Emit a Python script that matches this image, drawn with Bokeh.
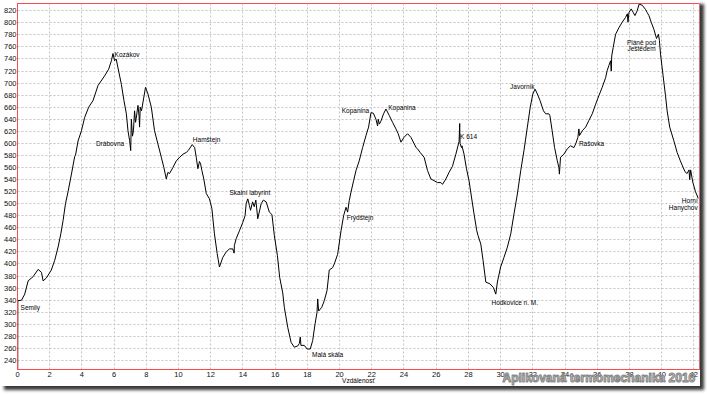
import numpy as np
from bokeh.plotting import figure
from bokeh.models import Label, Span, SingleIntervalTicker, Range1d, Title
from bokeh.embed import file_html
from bokeh.resources import INLINE

# ---- profile data (distance in km, elevation in m) ----
distance_km = [
    0.0, 0.02, 0.25, 0.45, 0.66, 0.97, 1.28, 1.49, 1.59, 1.8, 2.1, 2.31, 2.52, 2.69, 2.83, 2.98,
    3.14, 3.35, 3.55, 3.6, 3.76, 3.97, 4.17, 4.42, 4.69, 5.0, 5.41, 5.66, 5.83, 5.93, 6.03, 6.13,
    6.28, 6.45, 6.61, 6.76, 6.86, 6.96, 7.03, 7.07, 7.14, 7.2, 7.27, 7.33, 7.37, 7.48, 7.55, 7.58,
    7.62, 7.7, 7.95, 8.1, 8.31, 8.51, 8.72, 8.93, 9.09, 9.24, 9.34, 9.44, 9.65, 9.86, 10.07, 10.27,
    10.48, 10.6, 10.85, 11.0, 11.1, 11.2, 11.3, 11.37, 11.45, 11.57, 11.72, 11.92, 12.07, 12.23,
    12.4, 12.54, 12.75, 12.96, 13.16, 13.37, 13.45, 13.47, 13.58, 13.78, 13.99, 14.13, 14.2, 14.3,
    14.4, 14.47, 14.6, 14.7, 14.8, 14.92, 15.13, 15.27, 15.44, 15.64, 15.8, 15.95, 16.14, 16.28,
    16.47, 16.57, 16.78, 16.99, 17.19, 17.4, 17.5, 17.56, 17.6, 17.81, 17.98, 18.18, 18.33, 18.48,
    18.6, 18.64, 18.7, 18.89, 19.05, 19.22, 19.36, 19.57, 19.67, 19.88, 20.09, 20.25, 20.4, 20.5,
    20.6, 20.7, 20.87, 21.02, 21.22, 21.43, 21.64, 21.8, 21.95, 22.1, 22.26, 22.36, 22.4, 22.47,
    22.57, 22.73, 22.88, 23.09, 23.29, 23.5, 23.64, 23.81, 24.0, 24.22, 24.43, 24.64, 24.75, 24.84,
    25.0, 25.25, 25.46, 25.67, 25.88, 26.08, 26.29, 26.39, 26.6, 26.8, 27.01, 27.22, 27.42, 27.46,
    27.48, 27.57, 27.6, 27.73, 27.88, 28.04, 28.19, 28.35, 28.52, 28.6, 28.77, 28.91, 29.08, 29.34,
    29.55, 29.7, 29.8, 30.0, 30.21, 30.42, 30.63, 30.83, 31.04, 31.25, 31.45, 31.66, 31.84, 32.0,
    32.14, 32.28, 32.45, 32.66, 32.8, 33.0, 33.06, 33.2, 33.35, 33.52, 33.62, 33.65, 33.72, 33.93,
    34.14, 34.34, 34.55, 34.66, 34.8, 34.86, 34.9, 35.07, 35.28, 35.48, 35.69, 35.9, 36.1, 36.31,
    36.52, 36.62, 36.72, 36.83, 36.87, 36.9, 36.99, 37.14, 37.35, 37.55, 37.76, 37.87, 37.91, 37.97,
    38.11, 38.24, 38.34, 38.48, 38.6, 38.8, 39.0, 39.1, 39.21, 39.35, 39.52, 39.68, 39.8, 39.86,
    39.93, 40.09, 40.24, 40.34, 40.5, 40.75, 40.96, 41.16, 41.45, 41.58, 41.7, 41.74, 41.8, 41.93,
    42.1, 42.27,
]
elevation_m = [
    0, 339, 340, 350, 372, 379, 391, 386, 372, 377, 390, 406, 428, 450, 472, 500,
    520, 549, 578, 580, 604, 621, 643, 660, 671, 696, 712, 723, 737, 749, 737, 740,
    720, 698, 671, 649, 621, 605, 588, 640, 612, 621, 654, 635, 641, 663, 645, 627,
    660, 654, 693, 682, 660, 621, 599, 577, 560, 541, 552, 550, 560, 571, 577, 582,
    585, 588, 598, 593, 577, 558, 570, 566, 555, 541, 517, 508, 492, 450,
    417, 395, 411, 420, 425, 425, 418, 431, 442, 455, 469, 480, 500, 508,
    497, 489, 503, 495, 506, 475, 500, 506, 503, 486, 482, 447, 414, 378,
    352, 328, 295, 270, 262, 264, 268, 279, 265, 265, 259, 259, 273, 301,
    320, 342, 322, 328, 339, 356, 390, 394, 400, 416, 455, 480, 494, 486,
    505, 518, 538, 555, 571, 593, 613, 627, 651, 650, 640, 629, 640, 632,
    637, 649, 657, 646, 635, 624, 616, 602, 610, 616, 610, 599, 593, 591,
    585, 577, 555, 541, 538, 535, 535, 532, 541, 552, 562, 582, 603, 633,
    600, 593, 596, 582, 558, 538, 511, 483, 455, 447, 433, 406, 370, 367,
    361, 350, 370, 395, 411, 428, 450, 483, 516, 555, 588, 627, 660, 682,
    690, 682, 671, 654, 649, 649, 646, 621, 593, 571, 560, 549, 577, 582,
    591, 596, 593, 599, 610, 624, 613, 621, 627, 638, 649, 665, 679, 693,
    709, 721, 729, 737, 720, 745, 759, 781, 792, 801, 809, 815, 801, 817,
    823, 817, 812, 820, 831, 829, 822, 817, 812, 801, 789, 774, 781, 771,
    748, 712, 679, 654, 627, 605, 585, 571, 553, 550, 556, 540, 556, 536,
    520, 509,
]

# ---- place names (annotation text) ----
place_names = ["Semily", "Kozákov", "Drábovna", "Hamštejn", "Skalní labyrint", "Malá skála",
               "Frýdštejn", "Kopanina", "Kopanina", "K 614", "Hodkovice n. M.", "Javorník",
               "Rašovka", "Pláně pod", "Ještědem", "Horní", "Hanychov"]
# label anchor positions (km, m) and alignment
place_label_km = [0.19, 6.03, 6.62, 10.89, 13.16, 18.29, 20.44, 21.84, 23.02, 27.48, 29.43,
                  32.11, 34.86, 38.75, 38.75, 42.24, 42.24]
place_label_m = [327.8, 747.9, 600.4, 607.0, 518.4, 249.9, 477.8, 655.1, 660.1, 612.0, 336.9,
                 694.0, 600.4, 767.8, 757.4, 505.1, 494.0]
place_label_align = ["left", "left", "right", "left", "left", "left", "left", "right", "left",
                     "left", "left", "right", "left", "center", "center", "right", "right"]

x_tick_step = 2
y_tick_step = 20
x_title = "Vzdálenosť"
watermark = "Aplikovaná termomechanika 2016"

RED = "#ff4a4a"
FONT = "Liberation Sans"

p = figure(width=700, height=386,
           x_range=Range1d(0, 42.35), y_range=Range1d(225, 832),
           output_backend="svg", toolbar_location=None,
           min_border_left=16, min_border_right=1, min_border_top=3, min_border_bottom=17,
           background_fill_color="white", border_fill_color="white")
p.styles = {"box-shadow": "4px 4px 3px #3a3a3a"}

p.outline_line_color = RED
p.outline_line_width = 1

p.xaxis.ticker = SingleIntervalTicker(interval=x_tick_step)
p.yaxis.ticker = SingleIntervalTicker(interval=y_tick_step)
p.axis.major_tick_line_color = None
p.axis.minor_tick_line_color = None
p.axis.major_tick_out = 0
p.axis.major_tick_in = 0
p.axis.minor_tick_out = 0
p.axis.minor_tick_in = 0
p.axis.axis_line_color = RED
p.axis.major_label_text_font = FONT
p.axis.major_label_text_font_size = "7.5px"
p.axis.major_label_text_color = "#111111"
p.yaxis.major_label_standoff = 1
p.xaxis.major_label_standoff = 2

p.xaxis.axis_label = x_title
p.xaxis.axis_label_text_font = FONT
p.xaxis.axis_label_text_font_size = "6.5px"
p.xaxis.axis_label_text_font_style = "normal"
p.xaxis.axis_label_text_color = "#000000"
p.xaxis.axis_label_standoff = -3

p.grid.grid_line_color = "#c4c4c4"
p.grid.grid_line_dash = "2 2"
p.grid.grid_line_width = 1

p.add_layout(Span(location=42.35, dimension="height", line_color="#9a9a9a", line_width=1))

p.line(distance_km, elevation_m, line_color="#000000", line_width=1)

for name, xk, ym, al in zip(place_names, place_label_km, place_label_m, place_label_align):
    p.add_layout(Label(x=xk, y=ym, text=name, text_align=al, text_baseline="middle",
                       text_font=FONT, text_font_size="6.5px", text_color="#000000"))

# watermark in the bottom border, overlapping the tick labels
wm = Title(text=watermark, align="left", offset=485, standoff=-32, vertical_align="top",
           text_font=FONT, text_font_size="12px", text_font_style="bold",
           text_color="#d0d0d0")
try:
    wm.text_outline_color = "#858585"
except Exception:
    pass
p.add_layout(wm, "below")

open("out.html", "w").write(file_html(p, INLINE))
